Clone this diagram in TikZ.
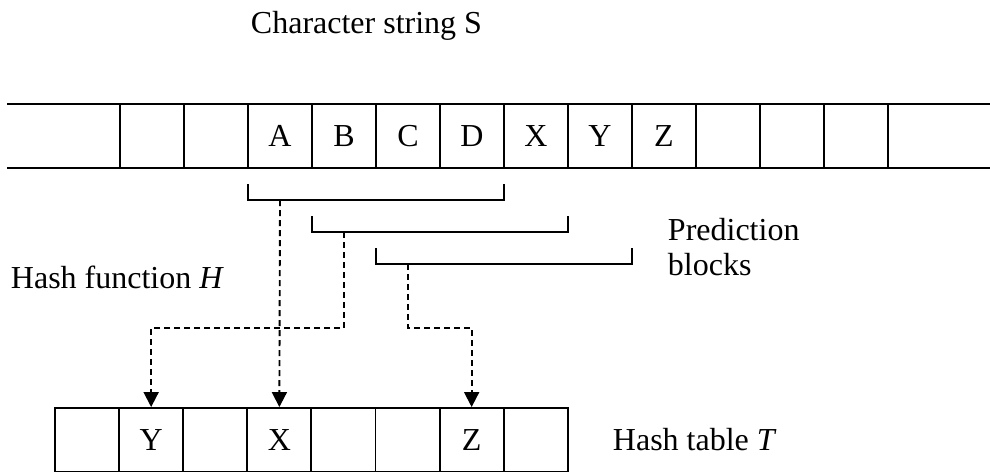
\documentclass[tikz,border=0pt]{standalone}
\usepackage{fontspec}
\setmainfont{Liberation Serif}
\usetikzlibrary{arrows.meta}
\begin{document}
\begin{tikzpicture}[x=1pt,y=-1pt,line width=1.9pt,
  bigfont/.style={font=\fontsize{32}{38}\selectfont},
  letter/.style={bigfont,inner sep=0pt},
  cell/.style={draw,minimum width=64.1pt,minimum height=64pt,inner sep=0pt,bigfont},
  lbl/.style={anchor=base west,inner sep=0pt,bigfont},
  bracketln/.style={line width=1.9pt},
  hashln/.style={line width=1.9pt,dash pattern=on 6pt off 4pt,-{Triangle[length=15pt,width=15pt]}}]
\useasboundingbox (0,0) rectangle (990,471);
% character string S
\draw (7,104) -- (990,104);
\draw (7,168) -- (990,168);
\foreach \k in {0,...,12}{\draw (120+64*\k,104) -- (120+64*\k,168);}
\node[letter] (sA) at (280,136) {A};
\node[letter] (sB) at (344,136) {B};
\node[letter] (sC) at (408,136) {C};
\node[letter] (sD) at (472,136) {D};
\node[letter] (sX) at (536,136) {X};
\node[letter] (sY) at (600,136) {Y};
\node[letter] (sZ) at (664,136) {Z};
% labels
\node[lbl] (lS) at (250,33) {Character string S};
\node[lbl] (lH) at (10,288) {Hash function \textit{H}};
\node[lbl] (lP1) at (667,240) {Prediction};
\node[lbl] (lP2) at (667,275) {blocks};
\node[lbl] (lT) at (612,450) {Hash table \textit{T}};
% prediction blocks
\draw[bracketln] (248,184) -- (248,200) -- (504,200) -- (504,184);
\draw[bracketln] (312,216) -- (312,232) -- (568,232) -- (568,216);
\draw[bracketln] (376,248) -- (376,264) -- (632,264) -- (632,248);
\coordinate (b1) at (280,200);
\coordinate (b2) at (344,232);
\coordinate (b3) at (408,264);
% hash table T
\foreach \k/\t in {1/,2/Y,3/,4/X,5/,6/,7/Z,8/}{
  \node[cell] (t\k) at (55+64.1*\k-32.05,440) {\t};
}
% hash function
\draw[hashln] (b1) -- (t4.north);
\draw[hashln] (b2) -- (b2 |- 0,328) -| (t2.north);
\draw[hashln] (b3) -- (b3 |- 0,328) -| (t7.north);
\end{tikzpicture}
\end{document}
